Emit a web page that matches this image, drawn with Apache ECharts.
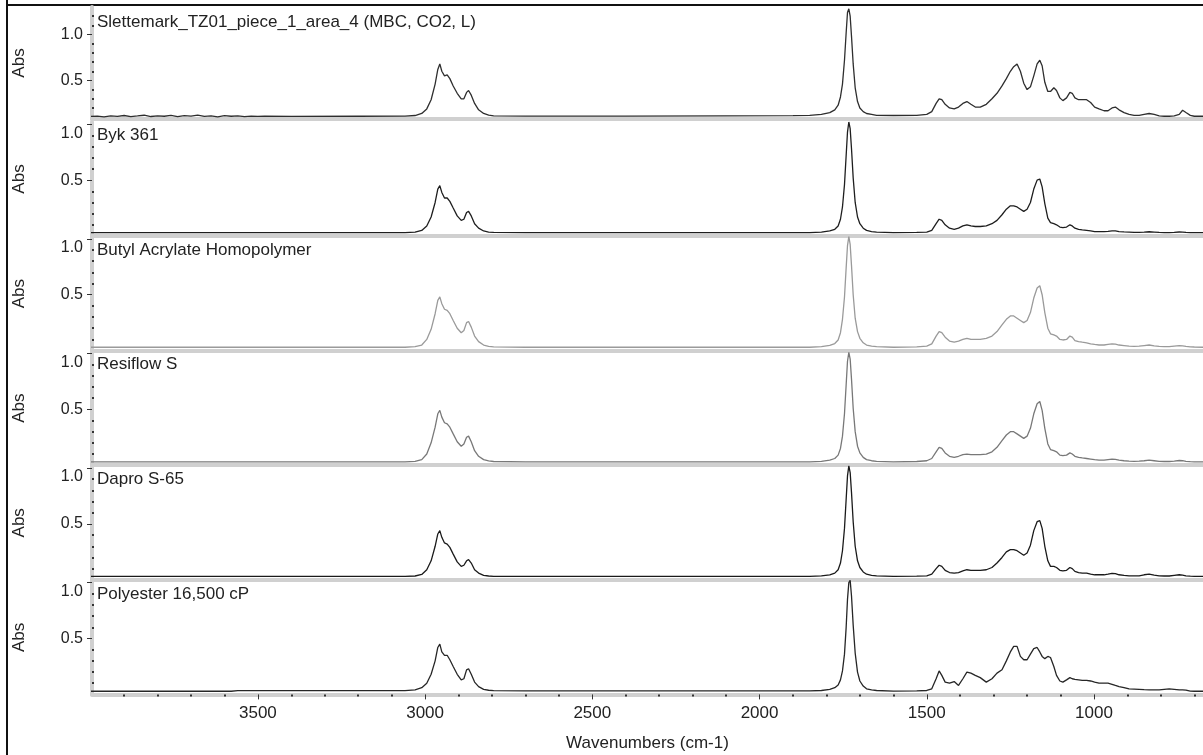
<!DOCTYPE html>
<html>
<head>
<meta charset="utf-8">
<title>FTIR spectra</title>
<script src="https://cdn.jsdelivr.net/npm/echarts@6/dist/echarts.min.js"></script>
<style>
  html, body { margin: 0; padding: 0; background: #fff; }
  #main { width: 1203px; height: 755px; }
</style>
</head>
<body>
<div id="main"></div>
<script>
// wavenumbers (cm-1), shared by all six spectra
const wnHigh = [4000, 3980, 3960, 3940, 3920, 3900, 3880, 3860, 3840, 3820,
  3800, 3780, 3760, 3740, 3720, 3700, 3680, 3660, 3640, 3620,
  3600, 3580, 3560, 3540, 3520, 3500, 3480]
const wnCH = [3400, 3200, 3060, 3030, 3010, 2995, 2982, 2970, 2962, 2956,
  2950, 2942, 2934, 2926, 2916, 2904, 2892, 2884, 2876, 2870,
  2862, 2852, 2840, 2825, 2810, 2795, 2700, 2400, 2100, 1900]
const wnCO = [1850, 1815, 1790, 1775, 1765, 1758, 1752, 1746, 1741, 1737,
  1733, 1729, 1725, 1720, 1714, 1707, 1700, 1690, 1680, 1665,
  1650]
const wnFinger = [1600, 1530, 1500, 1485, 1472, 1463, 1455, 1445, 1432, 1418,
  1405, 1392, 1380, 1368, 1355, 1340, 1322, 1305, 1290, 1275,
  1262, 1250, 1240, 1230, 1220, 1210, 1200, 1190, 1180, 1170,
  1162, 1155, 1147, 1138, 1130, 1120, 1112, 1102, 1093, 1082,
  1072, 1065, 1057, 1046, 1035, 1022, 1010, 998, 985, 970,
  958, 946, 936, 925, 910, 895, 880, 865, 850, 835,
  820, 805, 790, 775, 760, 745, 735, 725, 712, 700,
  674]
const wavenumbers = wnHigh.concat(wnCH, wnCO, wnFinger)

// absorbance, one array per spectrum (same order as wavenumbers)
const slettemark = [
  0.108, 0.112, 0.104, 0.115, 0.109, 0.118, 0.106, 0.113, 0.121, 0.107,
  0.114, 0.110, 0.119, 0.105, 0.116, 0.111, 0.122, 0.108, 0.115, 0.104,
  0.117, 0.110, 0.113, 0.106, 0.112, 0.109, 0.110,
  0.108, 0.11, 0.112, 0.118, 0.14, 0.19, 0.29, 0.46, 0.62, 0.68,
  0.60, 0.55, 0.56, 0.52, 0.44, 0.36, 0.30, 0.30, 0.37, 0.39,
  0.34, 0.25, 0.18, 0.14, 0.122, 0.115, 0.112, 0.112, 0.114, 0.116,
  0.12, 0.13, 0.15, 0.18, 0.23, 0.32, 0.46, 0.72, 1.02, 1.24,
  1.28, 1.20, 0.98, 0.68, 0.42, 0.27, 0.20, 0.16, 0.14, 0.13,
  0.12,
  0.118, 0.12, 0.13, 0.16, 0.25, 0.30, 0.29, 0.24, 0.20, 0.19,
  0.21, 0.25, 0.27, 0.24, 0.21, 0.21, 0.24, 0.30, 0.36, 0.44,
  0.52, 0.60, 0.65, 0.68, 0.60, 0.47, 0.40, 0.43, 0.55, 0.68,
  0.72, 0.66, 0.48, 0.38, 0.38, 0.42, 0.39, 0.31, 0.28, 0.31,
  0.37, 0.36, 0.31, 0.29, 0.29, 0.29, 0.26, 0.21, 0.19, 0.17,
  0.17, 0.20, 0.21, 0.18, 0.15, 0.13, 0.12, 0.12, 0.13, 0.14,
  0.13, 0.115, 0.11, 0.11, 0.115, 0.13, 0.175, 0.15, 0.12, 0.11,
  0.11]
const byk361 = [
  0.03, 0.03, 0.03, 0.03, 0.03, 0.03, 0.03, 0.03, 0.03, 0.03,
  0.03, 0.03, 0.03, 0.03, 0.03, 0.03, 0.03, 0.03, 0.03, 0.03,
  0.03, 0.03, 0.03, 0.03, 0.03, 0.03, 0.03,
  0.03, 0.03, 0.03, 0.035, 0.05, 0.09, 0.17, 0.30, 0.42, 0.45,
  0.39, 0.34, 0.34, 0.31, 0.25, 0.18, 0.14, 0.15, 0.21, 0.22,
  0.18, 0.11, 0.07, 0.045, 0.035, 0.032, 0.03, 0.03, 0.03, 0.03,
  0.03, 0.035, 0.045, 0.06, 0.09, 0.15, 0.26, 0.46, 0.72, 0.93,
  1.02, 0.96, 0.78, 0.52, 0.30, 0.17, 0.11, 0.07, 0.05, 0.04,
  0.035,
  0.03, 0.032, 0.035, 0.05, 0.11, 0.15, 0.14, 0.10, 0.07, 0.06,
  0.07, 0.09, 0.10, 0.09, 0.085, 0.085, 0.09, 0.11, 0.14, 0.19,
  0.24, 0.27, 0.27, 0.26, 0.24, 0.22, 0.24, 0.30, 0.42, 0.50,
  0.51, 0.44, 0.29, 0.16, 0.12, 0.11, 0.10, 0.08, 0.075, 0.08,
  0.10, 0.09, 0.07, 0.06, 0.055, 0.05, 0.045, 0.04, 0.04, 0.04,
  0.042, 0.045, 0.045, 0.04, 0.037, 0.035, 0.033, 0.033, 0.035, 0.038,
  0.035, 0.032, 0.031, 0.031, 0.033, 0.036, 0.035, 0.032, 0.03, 0.03,
  0.03]
const butylAcrylate = [
  0.03, 0.03, 0.03, 0.03, 0.03, 0.03, 0.03, 0.03, 0.03, 0.03,
  0.03, 0.03, 0.03, 0.03, 0.03, 0.03, 0.03, 0.03, 0.03, 0.03,
  0.03, 0.03, 0.03, 0.03, 0.03, 0.03, 0.03,
  0.03, 0.03, 0.03, 0.035, 0.05, 0.10, 0.19, 0.33, 0.45, 0.48,
  0.42, 0.37, 0.36, 0.33, 0.27, 0.20, 0.16, 0.18, 0.25, 0.26,
  0.21, 0.13, 0.08, 0.05, 0.038, 0.033, 0.03, 0.03, 0.03, 0.03,
  0.03, 0.036, 0.047, 0.063, 0.095, 0.16, 0.28, 0.48, 0.74, 0.94,
  1.02, 0.95, 0.76, 0.50, 0.29, 0.17, 0.11, 0.07, 0.05, 0.04,
  0.035,
  0.03, 0.033, 0.04, 0.06, 0.13, 0.17, 0.16, 0.12, 0.085, 0.075,
  0.085, 0.10, 0.11, 0.10, 0.10, 0.10, 0.11, 0.13, 0.17, 0.23,
  0.28, 0.31, 0.31, 0.29, 0.27, 0.25, 0.27, 0.34, 0.47, 0.56,
  0.58, 0.50, 0.34, 0.20, 0.15, 0.14, 0.13, 0.10, 0.095, 0.10,
  0.13, 0.12, 0.09, 0.08, 0.075, 0.07, 0.06, 0.055, 0.05, 0.05,
  0.055, 0.06, 0.058, 0.05, 0.045, 0.04, 0.038, 0.04, 0.045, 0.05,
  0.042, 0.037, 0.035, 0.035, 0.04, 0.045, 0.042, 0.037, 0.034, 0.032,
  0.03]
const resiflowS = [
  0.03, 0.03, 0.03, 0.03, 0.03, 0.03, 0.03, 0.03, 0.03, 0.03,
  0.03, 0.03, 0.03, 0.03, 0.03, 0.03, 0.03, 0.03, 0.03, 0.03,
  0.03, 0.03, 0.03, 0.03, 0.03, 0.03, 0.03,
  0.03, 0.03, 0.03, 0.035, 0.05, 0.10, 0.20, 0.34, 0.46, 0.49,
  0.43, 0.38, 0.37, 0.34, 0.28, 0.21, 0.17, 0.19, 0.25, 0.26,
  0.21, 0.13, 0.08, 0.05, 0.038, 0.033, 0.03, 0.03, 0.03, 0.03,
  0.03, 0.035, 0.045, 0.06, 0.09, 0.15, 0.26, 0.46, 0.72, 0.93,
  1.01, 0.95, 0.77, 0.51, 0.30, 0.17, 0.11, 0.07, 0.05, 0.04,
  0.035,
  0.03, 0.033, 0.04, 0.06, 0.12, 0.16, 0.15, 0.11, 0.08, 0.07,
  0.08, 0.095, 0.10, 0.095, 0.095, 0.095, 0.10, 0.12, 0.16, 0.22,
  0.27, 0.30, 0.30, 0.28, 0.26, 0.24, 0.26, 0.33, 0.46, 0.55,
  0.57, 0.49, 0.33, 0.19, 0.14, 0.13, 0.12, 0.09, 0.085, 0.09,
  0.11, 0.10, 0.08, 0.07, 0.065, 0.06, 0.055, 0.05, 0.045, 0.045,
  0.05, 0.055, 0.052, 0.045, 0.04, 0.037, 0.035, 0.036, 0.04, 0.045,
  0.04, 0.035, 0.033, 0.033, 0.037, 0.042, 0.04, 0.035, 0.032, 0.03,
  0.03]
const daproS65 = [
  0.03, 0.03, 0.03, 0.03, 0.03, 0.03, 0.03, 0.03, 0.03, 0.03,
  0.03, 0.03, 0.03, 0.03, 0.03, 0.03, 0.03, 0.03, 0.03, 0.03,
  0.03, 0.03, 0.03, 0.03, 0.03, 0.03, 0.03,
  0.03, 0.03, 0.03, 0.034, 0.048, 0.09, 0.17, 0.30, 0.41, 0.44,
  0.38, 0.33, 0.32, 0.29, 0.23, 0.16, 0.12, 0.13, 0.17, 0.18,
  0.15, 0.09, 0.06, 0.04, 0.034, 0.031, 0.03, 0.03, 0.03, 0.03,
  0.03, 0.035, 0.045, 0.06, 0.09, 0.15, 0.26, 0.46, 0.72, 0.93,
  1.02, 0.96, 0.78, 0.52, 0.30, 0.17, 0.11, 0.07, 0.05, 0.04,
  0.035,
  0.03, 0.032, 0.035, 0.05, 0.10, 0.13, 0.12, 0.085, 0.065, 0.06,
  0.065, 0.08, 0.09, 0.085, 0.085, 0.085, 0.09, 0.11, 0.15, 0.20,
  0.25, 0.27, 0.27, 0.26, 0.24, 0.22, 0.24, 0.31, 0.44, 0.52,
  0.53, 0.46, 0.30, 0.17, 0.12, 0.12, 0.11, 0.085, 0.08, 0.085,
  0.11, 0.10, 0.075, 0.065, 0.06, 0.06, 0.05, 0.045, 0.045, 0.045,
  0.05, 0.058, 0.055, 0.045, 0.04, 0.036, 0.035, 0.036, 0.045, 0.05,
  0.042, 0.036, 0.034, 0.034, 0.04, 0.045, 0.042, 0.036, 0.032, 0.03,
  0.03]
const polyester = [
  0.028, 0.028, 0.028, 0.028, 0.028, 0.028, 0.028, 0.028, 0.028, 0.028,
  0.028, 0.028, 0.028, 0.028, 0.028, 0.028, 0.028, 0.028, 0.028, 0.028,
  0.028, 0.028, 0.033, 0.033, 0.033, 0.033, 0.033,
  0.033, 0.033, 0.034, 0.04, 0.06, 0.10, 0.18, 0.30, 0.42, 0.45,
  0.38, 0.35, 0.35, 0.31, 0.25, 0.18, 0.13, 0.14, 0.22, 0.23,
  0.18, 0.11, 0.07, 0.045, 0.037, 0.033, 0.032, 0.031, 0.031, 0.031,
  0.032, 0.035, 0.045, 0.06, 0.085, 0.13, 0.21, 0.36, 0.60, 0.85,
  1.00, 1.02, 0.88, 0.62, 0.37, 0.20, 0.12, 0.075, 0.05, 0.04,
  0.035,
  0.03, 0.031, 0.035, 0.05, 0.14, 0.21, 0.17, 0.11, 0.10, 0.115,
  0.08, 0.14, 0.20, 0.19, 0.17, 0.15, 0.11, 0.14, 0.19, 0.22,
  0.30, 0.38, 0.43, 0.43, 0.34, 0.31, 0.31, 0.36, 0.41, 0.42,
  0.38, 0.34, 0.32, 0.34, 0.33, 0.25, 0.17, 0.12, 0.11, 0.13,
  0.15, 0.14, 0.135, 0.13, 0.125, 0.125, 0.12, 0.11, 0.10, 0.10,
  0.10, 0.09, 0.08, 0.07, 0.06, 0.05, 0.048, 0.045, 0.042, 0.04,
  0.04, 0.04, 0.045, 0.05, 0.045, 0.04, 0.04, 0.038, 0.03, 0.028,
  0.028]

const names = ['Slettemark_TZ01_piece_1_area_4 (MBC, CO2, L)', 'Byk 361',
  'Butyl Acrylate Homopolymer', 'Resiflow S', 'Dapro S-65', 'Polyester 16,500 cP']
const spectra = [slettemark, byk361, butylAcrylate, resiflowS, daproS65, polyester]
const lineColors = ['#2e2e2e', '#1e1e1e', '#9a9a9a', '#787878', '#1a1a1a', '#262626']

// axis ticks
const xMajor = [1000, 1500, 2000, 2500, 3000, 3500]
const xMinor = [700, 800, 900, 1100, 1200, 1300, 1400, 1600, 1700, 1800, 1900,
  2100, 2200, 2300, 2400, 2600, 2700, 2800, 2900, 3100, 3200, 3300, 3400,
  3600, 3700, 3800, 3900]
const yMajor = [0.5, 1.0]
const yMinorTop = [0.2, 0.3, 0.4, 0.6, 0.7, 0.8, 0.9, 1.1, 1.2]
const yMinor = [0.1, 0.2, 0.3, 0.4, 0.6, 0.7, 0.8, 0.9]
const yRange = [[0.08, 1.30], [0, 1.02], [0, 1.02], [0, 1.02], [0, 1.02], [0, 1.02]]

spectra.forEach(function (s, i) {
  if (s.length !== wavenumbers.length) throw new Error('length mismatch ' + i + ': ' + s.length + ' vs ' + wavenumbers.length)
})

// panel layout
const bottoms = [119, 236, 350.6, 465.2, 579.8, 694.4]
const tops = [7, 122, 236.6, 351.2, 465.8, 580.4]
const font = 'Liberation Sans, Arial, sans-serif'
const band = '#d0d0d0'
const ink = '#222'

let chart = echarts.init(document.getElementById('main'), null, { renderer: 'canvas' })

let grid = [], xAxis = [], yAxis = [], series = [], title = []
for (let i = 0; i < 6; i++) {
  let last = i === 5
  grid.push({ left: 92, right: 0, top: tops[i], height: bottoms[i] - tops[i] })
  title.push({
    text: names[i], left: 97, top: tops[i] + (i === 0 ? 7 : 5), padding: 0,
    textStyle: { fontFamily: font, fontSize: 17, fontWeight: 'normal', color: ink }
  })
  xAxis.push({
    type: 'value', gridIndex: i, position: 'bottom', inverse: true, min: 674, max: 3996,
    axisLine: { show: true, onZero: false, lineStyle: { color: band, width: 4 } },
    splitLine: { show: false },
    axisTick: { show: last, customValues: xMajor, length: 5, lineStyle: { color: '#333', width: 1 } },
    axisLabel: {
      show: last, customValues: xMajor, margin: 10, fontSize: 17, color: ink, fontFamily: font,
      formatter: function (v) { return String(v) }
    },
    name: last ? 'Wavenumbers (cm-1)' : '', nameLocation: 'middle', nameGap: 40,
    nameTextStyle: { fontSize: 17, color: ink, fontFamily: font }
  })
  yAxis.push({
    type: 'value', gridIndex: i, position: 'left', min: yRange[i][0], max: yRange[i][1],
    axisLine: { show: true, onZero: false, lineStyle: { color: band, width: 4 } },
    splitLine: { show: false },
    axisTick: { customValues: yMajor, length: 5, lineStyle: { color: '#333', width: 1 } },
    axisLabel: {
      customValues: yMajor, margin: 9, fontSize: 16, color: ink, fontFamily: font,
      formatter: function (v) {
        if (i > 0 && v === 1) return '{low|1.0}'
        return v.toFixed(1)
      },
      rich: { low: { padding: [18, 0, 0, 0], fontSize: 16, color: ink, fontFamily: font } }
    },
    name: 'Abs', nameLocation: 'middle', nameGap: 64, nameRotate: 90,
    nameTextStyle: { fontSize: 17, color: ink, fontFamily: font }
  })
  series.push({
    type: 'line', xAxisIndex: i, yAxisIndex: i, showSymbol: false, silent: true,
    lineStyle: { color: lineColors[i], width: 1.3 },
    data: wavenumbers.map(function (w, k) { return [w, spectra[i][k]] })
  })
}
// minor ticks (the little dots on the grey axis bands)
for (let i = 0; i < 6; i++) {
  yAxis.push({
    type: 'value', gridIndex: i, position: 'left', offset: 0, min: yRange[i][0], max: yRange[i][1],
    axisLine: { show: false }, splitLine: { show: false }, axisLabel: { show: false },
    axisTick: { inside: true, customValues: i === 0 ? yMinorTop : yMinor, length: 2, lineStyle: { color: '#333', width: 2 } }
  })
}
xAxis.push({
  type: 'value', gridIndex: 5, position: 'bottom', offset: 0, inverse: true, min: 674, max: 3996,
  axisLine: { show: false, onZero: false }, splitLine: { show: false }, axisLabel: { show: false },
  axisTick: { customValues: xMinor, length: 2, lineStyle: { color: '#333', width: 2 } }
})

let option = {
  animation: false,
  backgroundColor: '#fff',
  textStyle: { fontFamily: font },
  title: title,
  grid: grid,
  xAxis: xAxis,
  yAxis: yAxis,
  series: series,
  graphic: [
    { type: 'line', shape: { x1: 7, y1: 0, x2: 7, y2: 755 }, style: { stroke: '#111', lineWidth: 2 } },
    { type: 'line', shape: { x1: 6, y1: 5, x2: 1203, y2: 5 }, style: { stroke: '#111', lineWidth: 2 } }
  ]
}
chart.setOption(option)
</script>
</body>
</html>
